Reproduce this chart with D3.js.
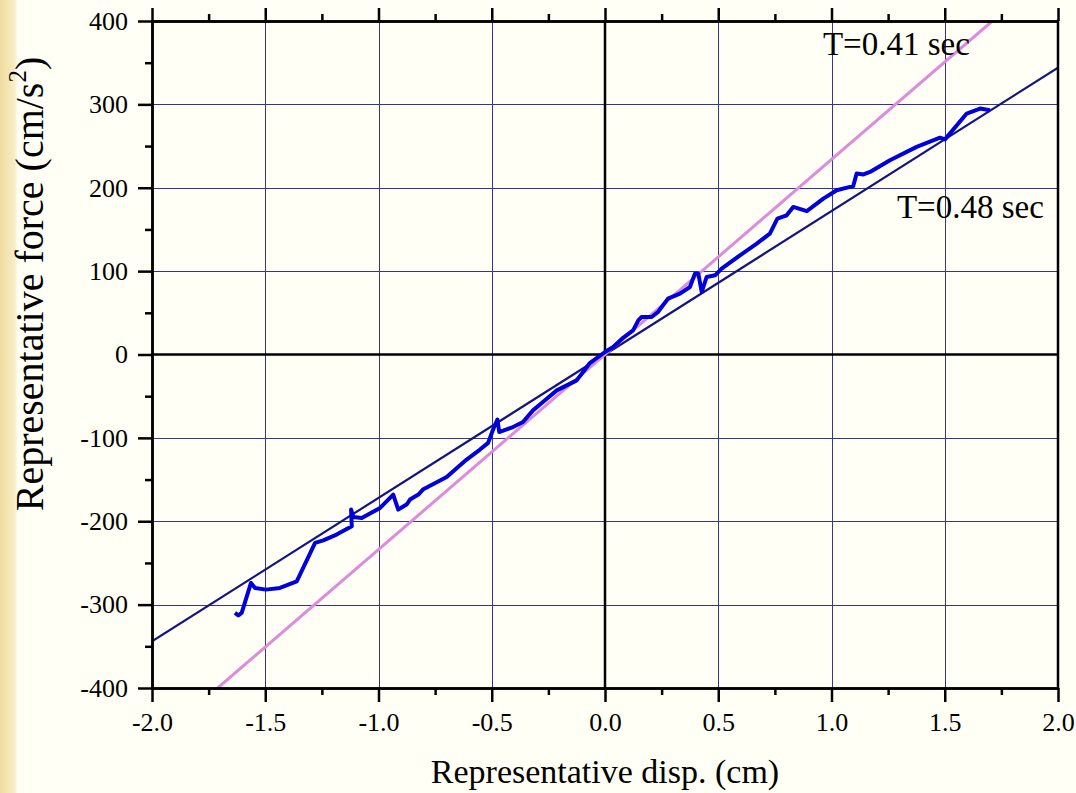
<!DOCTYPE html>
<html>
<head>
<meta charset="utf-8">
<script src="https://cdn.jsdelivr.net/npm/d3@7"></script>
<style>
  body { margin: 0; background: #FFFFF5; }
  svg { display: block; }
  text { font-family: "Liberation Serif", "Times New Roman", serif; fill: #000; }
</style>
</head>
<body>
<svg id="chart" width="1076" height="793"></svg>
<script>
// tick values
var xTicks = [-2.0, -1.5, -1.0, -0.5, 0.0, 0.5, 1.0, 1.5, 2.0];
var xMinor = [-1.75, -1.25, -0.75, -0.25, 0.25, 0.75, 1.25, 1.75];
var yTicks = [-400, -300, -200, -100, 0, 100, 200, 300, 400];
var yMinor = [-350, -250, -150, -50, 50, 150, 250, 350];

// reference straight lines
var lineT041 = [[-1.71, -400], [1.71, 400]];
var lineT048 = [[-2.0, -344], [2.0, 344]];

// measured response (disp, force)
var respX = [-1.634, -1.619, -1.604, -1.563, -1.545, -1.497, -1.435, -1.361, -1.280, -1.244,
  -1.185, -1.118, -1.121, -1.111, -1.074, -0.993, -0.935, -0.913, -0.876, -0.861,
  -0.824, -0.804, -0.699, -0.611, -0.552, -0.516, -0.494, -0.475, -0.467, -0.406,
  -0.362, -0.318, -0.274, -0.213, -0.125, -0.066, 0.000, 0.036, 0.080, 0.124,
  0.147, 0.162, 0.206, 0.234, 0.278, 0.331, 0.375, 0.397, 0.412, 0.427,
  0.449, 0.486, 0.515, 0.596, 0.670, 0.728, 0.761, 0.802, 0.831, 0.891,
  0.964, 1.023, 1.082, 1.096, 1.111, 1.141, 1.170, 1.258, 1.376, 1.479,
  1.501, 1.597, 1.656, 1.700];
var respY = [-310, -313, -310, -274, -280, -282, -280, -272, -226, -223,
  -216, -206, -186, -195, -196, -184, -168, -186, -180, -174,
  -168, -162, -147, -126, -114, -106, -90, -78, -93, -87,
  -81, -67, -57, -43, -31, -10, 3, 9, 20, 29,
  41, 45, 45, 51, 67, 73, 81, 97, 97, 75,
  93, 95, 103, 119, 133, 145, 163, 167, 177, 172,
  187, 197, 201, 202, 217, 216, 219, 233, 249, 260,
  258, 289, 295, 293];

var annotations = [
  { text: "T=0.41 sec", x: 0.962, y: 359 },
  { text: "T=0.48 sec", x: 1.289, y: 164 }
];

(function () {
  var pl = 152, pr = 1058, pt = 21, pb = 688;
  var svg = d3.select('#chart');
  var defs = svg.append('defs');

  // left tan strip
  var grad = defs.append('linearGradient').attr('id', 'strip');
  grad.append('stop').attr('offset', '0%').attr('stop-color', '#EFDBA0');
  grad.append('stop').attr('offset', '80%').attr('stop-color', '#F8EDC4');
  grad.append('stop').attr('offset', '100%').attr('stop-color', '#FFFFF5');
  svg.append('rect').attr('x', 0).attr('y', 0).attr('width', 18).attr('height', 793)
    .attr('fill', 'url(#strip)');

  defs.append('clipPath').attr('id', 'clip')
    .append('rect').attr('x', pl).attr('y', pt)
    .attr('width', pr - pl).attr('height', pb - pt);

  var x = d3.scaleLinear().domain([-2, 2]).range([pl, pr]);
  var y = d3.scaleLinear().domain([-400, 400]).range([pb, pt]);

  // grid
  var grid = svg.append('g');
  grid.selectAll('.gx').data(xTicks.filter(d => d !== 0 && Math.abs(d) !== 2)).enter()
    .append('line')
    .attr('x1', d => Math.round(x(d)) + 0.5).attr('x2', d => Math.round(x(d)) + 0.5)
    .attr('y1', pt).attr('y2', pb)
    .attr('stroke', '#34349a').attr('stroke-width', 1);
  grid.selectAll('.gy').data(yTicks.filter(d => d !== 0 && Math.abs(d) !== 400)).enter()
    .append('line')
    .attr('y1', d => Math.round(y(d)) + 0.5).attr('y2', d => Math.round(y(d)) + 0.5)
    .attr('x1', pl).attr('x2', pr)
    .attr('stroke', '#34349a').attr('stroke-width', 1);

  // zero lines
  svg.append('line').attr('x1', x(0)).attr('x2', x(0)).attr('y1', pt).attr('y2', pb)
    .attr('stroke', '#000').attr('stroke-width', 2.5);
  svg.append('line').attr('x1', pl).attr('x2', pr).attr('y1', y(0)).attr('y2', y(0))
    .attr('stroke', '#000').attr('stroke-width', 2.5);

  // data lines
  var line = d3.line().x(d => x(d[0])).y(d => y(d[1]));
  var plot = svg.append('g').attr('clip-path', 'url(#clip)');
  plot.append('path').datum(lineT048).attr('d', line)
    .attr('fill', 'none').attr('stroke', '#141480').attr('stroke-width', 2.2);
  plot.append('path').datum(lineT041).attr('d', line)
    .attr('fill', 'none').attr('stroke', '#DD8BDD').attr('stroke-width', 3);
  plot.append('path').datum(respX.map((d, i) => [d, respY[i]])).attr('d', line)
    .attr('fill', 'none').attr('stroke', '#0000DD').attr('stroke-width', 4)
    .attr('stroke-linejoin', 'round');

  // axes
  function styleAxis(g) {
    g.attr('font-family', null).attr('font-size', null);
    g.selectAll('path,line').attr('stroke', '#000').attr('stroke-width', 2.5);
    g.selectAll('text').style('font-size', '26px')
      .style('font-family', '"Liberation Serif", "Times New Roman", serif');
  }
  var fx = d => d3.format('.1f')(d).replace('\u2212', '-');
  var fy = d => String(d);
  svg.append('g').attr('transform', 'translate(0,' + pb + ')')
    .call(d3.axisBottom(x).tickValues(xMinor).tickSize(7).tickFormat('').tickSizeOuter(0))
    .call(styleAxis);
  svg.append('g').attr('transform', 'translate(0,' + pb + ')')
    .call(d3.axisBottom(x).tickValues(xTicks).tickSize(14).tickPadding(11)
      .tickFormat(fx).tickSizeOuter(0))
    .call(styleAxis);
  svg.append('g').attr('transform', 'translate(0,' + pt + ')')
    .call(d3.axisTop(x).tickValues(xMinor).tickSize(7).tickFormat('').tickSizeOuter(0))
    .call(styleAxis);
  svg.append('g').attr('transform', 'translate(0,' + pt + ')')
    .call(d3.axisTop(x).tickValues(xTicks).tickSize(13).tickFormat('').tickSizeOuter(0))
    .call(styleAxis);
  svg.append('g').attr('transform', 'translate(' + pl + ',0)')
    .call(d3.axisLeft(y).tickValues(yMinor).tickSize(7).tickFormat('').tickSizeOuter(0))
    .call(styleAxis);
  svg.append('g').attr('transform', 'translate(' + pl + ',0)')
    .call(d3.axisLeft(y).tickValues(yTicks).tickSize(14).tickPadding(10)
      .tickFormat(fy).tickSizeOuter(0))
    .call(styleAxis);
  svg.append('line').attr('x1', pr).attr('x2', pr).attr('y1', pt - 1.25).attr('y2', pb + 1.25)
    .attr('stroke', '#000').attr('stroke-width', 2.5);

  // annotations
  svg.selectAll('.ann').data(annotations).enter().append('text')
    .attr('x', d => x(d.x)).attr('y', d => y(d.y))
    .attr('font-size', '33px')
    .text(d => d.text);

  // axis titles
  svg.append('text')
    .attr('x', 605).attr('y', 783)
    .attr('text-anchor', 'middle')
    .attr('font-size', '34px')
    .text('Representative disp. (cm)');

  var yl = svg.append('text')
    .attr('transform', 'translate(43,284) rotate(-90)')
    .attr('text-anchor', 'middle')
    .attr('font-size', '40px');
  yl.append('tspan').text('Representative force (cm/s');
  yl.append('tspan').attr('font-size', '25px').attr('dy', -17).text('2');
  yl.append('tspan').attr('dy', 17).text(')');
})();
</script>
</body>
</html>
